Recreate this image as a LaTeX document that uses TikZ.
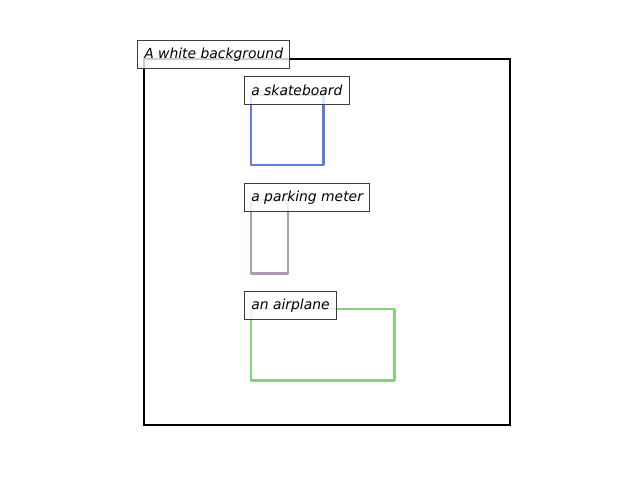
\documentclass[tikz,border=0pt]{standalone}
\usepackage{fontspec}
\setmainfont{DejaVu Sans}
\definecolor{skblue}{RGB}{105,120,224}
\definecolor{pmmauve}{RGB}{178,155,176}
\definecolor{apgreen}{RGB}{138,206,128}
\definecolor{lbledge}{RGB}{60,60,60}
\tikzset{
  lbl/.style={draw=lbledge, line width=0.72pt, fill=white, fill opacity=0.8, text opacity=1,
    anchor=north west, inner xsep=4.9pt, inner ysep=0pt, minimum height=20.2pt,
    font=\fontsize{10}{12}\selectfont\itshape},
  region/.style={line width=1.5pt, line join=round},
}
\begin{document}
\begin{tikzpicture}[x=0.72pt,y=-0.72pt]
\useasboundingbox (0,0) rectangle (640,480);
\fill[white] (0,0) rectangle (640,480);
\draw[line width=1.5pt] (144,59) rectangle (510,425);
\node[lbl] (bg) at (137,40) {A white background};
\draw[region, skblue] (251,95) rectangle (323.5,165);
\node[lbl] (sk) at (244,76) {a skateboard};
\draw[region, pmmauve] (251,200) rectangle (288,273.5);
\node[lbl] (pm) at (244,183) {a parking meter};
\draw[region, apgreen] (251,309) rectangle (394.5,380.5);
\node[lbl] (ap) at (244,291) {an airplane};
\end{tikzpicture}
\end{document}
